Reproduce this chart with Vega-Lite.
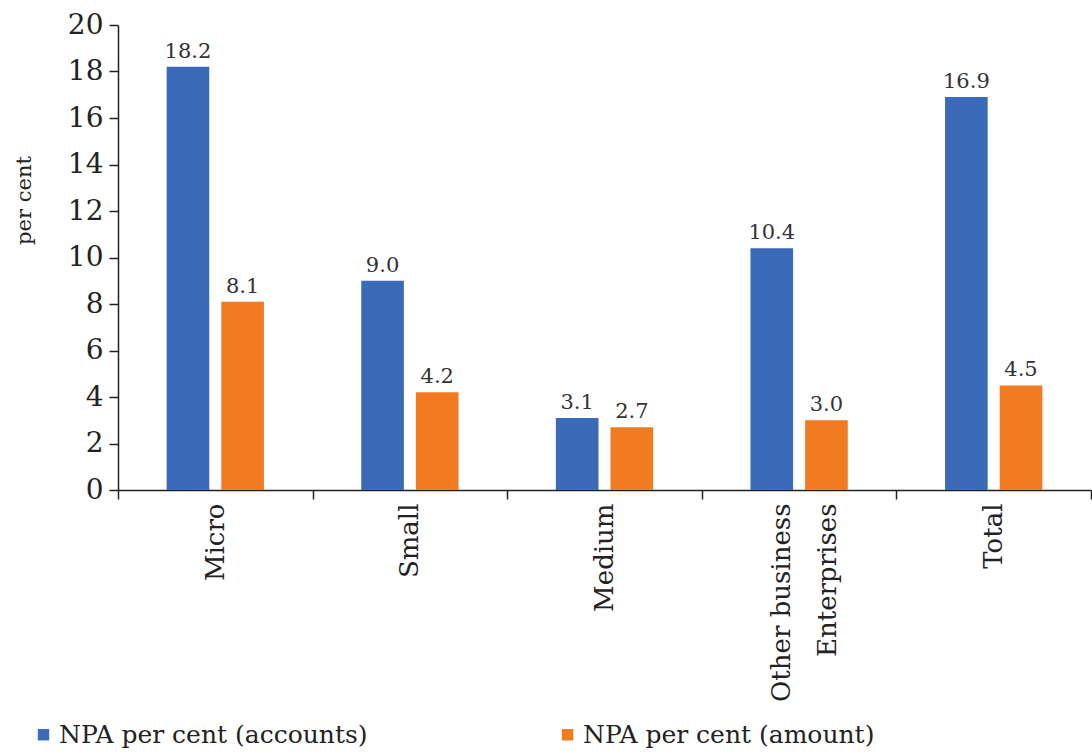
{
  "$schema": "https://vega.github.io/schema/vega-lite/v6.json",
  "width": 973,
  "height": 465,
  "autosize": {"type": "none"},
  "padding": {"left": 118, "top": 25, "right": 1, "bottom": 263},
  "background": "white",
  "config": {
    "font": "DejaVu Serif",
    "view": {"stroke": null},
    "axis": {"domainColor": "#222", "tickColor": "#222", "labelColor": "#222", "titleColor": "#222", "grid": false, "domainWidth": 1.5, "tickWidth": 1.5}
  },
  "data": {
    "values": [
      {"category": "Micro", "series": "NPA per cent (accounts)", "value": 18.2},
      {"category": "Micro", "series": "NPA per cent (amount)", "value": 8.1},
      {"category": "Small", "series": "NPA per cent (accounts)", "value": 9.0},
      {"category": "Small", "series": "NPA per cent (amount)", "value": 4.2},
      {"category": "Medium", "series": "NPA per cent (accounts)", "value": 3.1},
      {"category": "Medium", "series": "NPA per cent (amount)", "value": 2.7},
      {"category": "Other business Enterprises", "series": "NPA per cent (accounts)", "value": 10.4},
      {"category": "Other business Enterprises", "series": "NPA per cent (amount)", "value": 3.0},
      {"category": "Total", "series": "NPA per cent (accounts)", "value": 16.9},
      {"category": "Total", "series": "NPA per cent (amount)", "value": 4.5}
    ]
  },
  "encoding": {
    "x": {
      "field": "category",
      "type": "nominal",
      "sort": ["Micro", "Small", "Medium", "Other business Enterprises", "Total"],
      "scale": {"paddingInner": 0, "paddingOuter": 0},
      "axis": {
        "title": null,
        "labelAngle": -90,
        "labelAlign": "right",
        "labelBaseline": "middle",
        "labelFontSize": 26,
        "labelLineHeight": 46,
        "labelLimit": 400,
        "labelOffset": {"condition": {"test": "datum.value == 'Other business Enterprises'", "value": -18}, "value": 0},
        "tickBand": "extent",
        "tickSize": 9,
        "labelPadding": 4,
        "labelExpr": "datum.label == 'Other business Enterprises' ? ['Other business', 'Enterprises'] : datum.label"
      }
    },
    "xOffset": {
      "field": "series",
      "type": "nominal",
      "scale": {"paddingInner": 0.22, "paddingOuter": 0.89}
    },
    "y": {
      "field": "value",
      "type": "quantitative",
      "scale": {"domain": [0, 20], "nice": false},
      "axis": {
        "title": "per cent",
        "titleFontSize": 21,
        "titleFontWeight": "normal",
        "titlePadding": 33,
        "titleY": 175,
        "titleAlign": "center",
        "values": [0, 2, 4, 6, 8, 10, 12, 14, 16, 18, 20],
        "labelFontSize": 28,
        "labelPadding": 6,
        "tickSize": 9
      }
    },
    "color": {
      "field": "series",
      "type": "nominal",
      "scale": {"domain": ["NPA per cent (accounts)", "NPA per cent (amount)"], "range": ["#3b6bb8", "#f07b21"]},
      "legend": {
        "title": null,
        "orient": "none",
        "legendX": -87,
        "legendY": 697,
        "direction": "horizontal",
        "columns": 2,
        "columnPadding": 187,
        "symbolType": "square",
        "symbolSize": 130,
        "labelFontSize": 25,
        "labelLimit": 600,
        "labelOffset": 3,
        "labelColor": "#222"
      }
    }
  },
  "layer": [
    {"mark": {"type": "bar"}},
    {
      "mark": {"type": "text", "baseline": "bottom", "dy": -5, "fontSize": 21},
      "encoding": {
        "text": {"field": "value", "type": "quantitative", "format": ".1f"},
        "color": {"value": "#333"}
      }
    }
  ]
}
